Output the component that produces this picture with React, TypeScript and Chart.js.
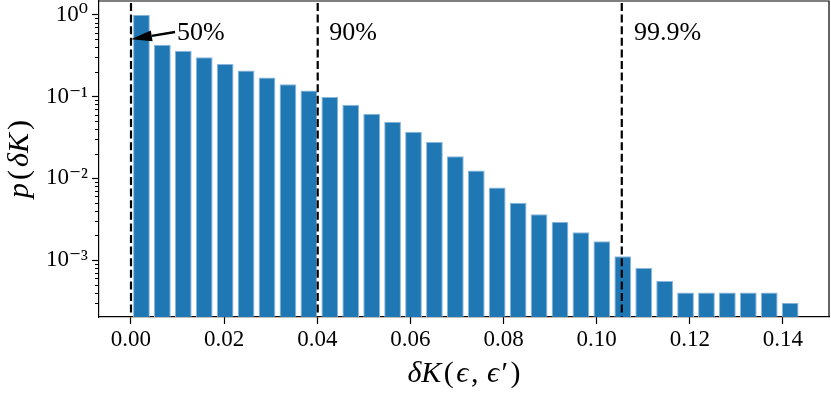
import React, { useEffect, useRef } from 'react';
import { Chart, registerables } from 'chart.js';

Chart.register(...registerables);

// ---- data ----
const binCenters = [
  0.002247, 0.006741, 0.011235, 0.015729, 0.020223, 0.024717, 0.029211, 0.033705,
  0.038199, 0.042693, 0.047187, 0.051681, 0.056175, 0.060669, 0.065163, 0.069657,
  0.074151, 0.078645, 0.083139, 0.087633, 0.092127, 0.096621, 0.101115, 0.105609,
  0.110103, 0.114597, 0.119091, 0.123585, 0.128079, 0.132573, 0.137067, 0.141561,
];
const probabilities = [
  1.0, 0.43, 0.363, 0.301, 0.249, 0.207, 0.17, 0.141,
  0.118, 0.0986, 0.0794, 0.0616, 0.0492, 0.0371, 0.0278, 0.0186,
  0.0124, 0.0077, 0.005, 0.00363, 0.00292, 0.00219, 0.0017, 0.00111,
  0.0008, 0.000555, 0.0004, 0.0004, 0.0004, 0.0004, 0.0004, 0.0003,
];
const xTickValues = [0, 0.02, 0.04, 0.06, 0.08, 0.1, 0.12, 0.14];
const xTickLabels = ['0.00', '0.02', '0.04', '0.06', '0.08', '0.10', '0.12', '0.14'];
const yMajorValues = [1, 0.1, 0.01, 0.001];
const yMajorLabels = ['10⁰', '10⁻¹', '10⁻²', '10⁻³'];
const thresholdValues = [0.0, 0.0401, 0.1054];
const thresholdLabels = ['50%', '90%', '99.9%'];
const thresholdLabelX = [0.0099, 0.0426, 0.108];
const thresholdLabelY = 0.49;
const arrowTarget = { x: 0.0, y: 0.5 };
const xRange = { min: -0.00687, max: 0.1499 };
const yRange = { min: 2.01e-4, max: 1.47 };

const SERIF = "'Liberation Serif', 'DejaVu Serif', serif";
const BAR_COLOR = '#1f77b4';

const isPow10 = (v: number) => {
  const l = Math.log10(v);
  return Math.abs(l - Math.round(l)) < 1e-9;
};

function drawSegments(
  ctx: CanvasRenderingContext2D,
  segs: { t: string; it: boolean }[],
  size: number,
  cx: number,
  baseY: number,
  gap: number
) {
  const widths = segs.map((s) => {
    ctx.font = `${s.it ? 'italic ' : ''}${size}px ${SERIF}`;
    return ctx.measureText(s.t).width;
  });
  const total = widths.reduce((a, b) => a + b, 0) + gap * (segs.length - 1);
  let x = cx - total / 2;
  ctx.textAlign = 'left';
  ctx.textBaseline = 'alphabetic';
  segs.forEach((s, i) => {
    ctx.font = `${s.it ? 'italic ' : ''}${size}px ${SERIF}`;
    ctx.fillText(s.t, x, baseY);
    x += widths[i] + gap;
  });
}

const extras = {
  id: 'extras',
  afterDatasetsDraw(chart: any) {
    const { ctx, chartArea: ca, scales } = chart;
    const x = scales.x;
    const y = scales.y;
    ctx.save();
    // dashed threshold lines
    ctx.strokeStyle = '#000';
    ctx.lineWidth = 2.2;
    ctx.setLineDash([8, 3.6]);
    thresholdValues.forEach((v) => {
      const px = x.getPixelForValue(v);
      ctx.beginPath();
      ctx.moveTo(px, ca.top + 2);
      ctx.lineTo(px, ca.bottom);
      ctx.stroke();
    });
    ctx.setLineDash([]);
    // threshold labels
    ctx.fillStyle = '#000';
    ctx.font = `26px ${SERIF}`;
    ctx.textAlign = 'left';
    ctx.textBaseline = 'alphabetic';
    const by = y.getPixelForValue(thresholdLabelY);
    thresholdLabels.forEach((t, i) => {
      ctx.fillText(t, x.getPixelForValue(thresholdLabelX[i]), by);
    });
    // arrow from "50%" to target
    const tx = x.getPixelForValue(arrowTarget.x);
    const ty = y.getPixelForValue(arrowTarget.y);
    const sx = x.getPixelForValue(thresholdLabelX[0]) - 2;
    const sy = by - 8;
    const ang = Math.atan2(ty - sy, tx - sx);
    const headLen = 21;
    const headHalf = 5.5;
    const bx = tx - headLen * Math.cos(ang);
    const byy = ty - headLen * Math.sin(ang);
    ctx.strokeStyle = '#000';
    ctx.lineWidth = 2.4;
    ctx.beginPath();
    ctx.moveTo(sx, sy);
    ctx.lineTo(bx, byy);
    ctx.stroke();
    ctx.beginPath();
    ctx.moveTo(tx, ty);
    ctx.lineTo(bx + headHalf * Math.sin(ang), byy - headHalf * Math.cos(ang));
    ctx.lineTo(bx - headHalf * Math.sin(ang), byy + headHalf * Math.cos(ang));
    ctx.closePath();
    ctx.fill();
    ctx.restore();
  },
  afterDraw(chart: any) {
    const { ctx, chartArea: ca, scales } = chart;
    const y = scales.y;
    ctx.save();
    // top and right spines
    ctx.strokeStyle = '#000';
    ctx.lineWidth = 1.2;
    ctx.beginPath();
    ctx.moveTo(ca.left, ca.top);
    ctx.lineTo(ca.right, ca.top);
    ctx.lineTo(ca.right, ca.bottom);
    ctx.stroke();
    // minor y ticks
    ctx.lineWidth = 1;
    y.ticks.forEach((t: any) => {
      if (isPow10(t.value)) return;
      const py = Math.round(y.getPixelForValue(t.value)) + 0.5;
      ctx.beginPath();
      ctx.moveTo(ca.left - 4, py);
      ctx.lineTo(ca.left, py);
      ctx.stroke();
    });
    // axis titles
    ctx.fillStyle = '#000';
    drawSegments(
      ctx,
      [
        { t: 'δK', it: true },
        { t: '(', it: false },
        { t: 'ϵ', it: true },
        { t: ',\u2009', it: false },
        { t: 'ϵ', it: true },
        { t: '′', it: false },
        { t: ')', it: false },
      ],
      30,
      (ca.left + ca.right) / 2,
      382,
      2.5
    );
    ctx.translate(28, (ca.top + ca.bottom) / 2);
    ctx.rotate(-Math.PI / 2);
    drawSegments(
      ctx,
      [
        { t: 'p', it: true },
        { t: '(', it: false },
        { t: 'δK', it: true },
        { t: ')', it: false },
      ],
      30,
      0,
      0,
      3
    );
    ctx.restore();
  },
};

export default function App() {
  const ref = useRef<HTMLCanvasElement>(null);
  useEffect(() => {
    const canvas = ref.current;
    if (!canvas) return;
    const chart = new Chart(canvas, {
      type: 'bar',
      data: {
        datasets: [
          {
            data: binCenters.map((c, i) => ({ x: c, y: probabilities[i] })),
            backgroundColor: BAR_COLOR,
            borderColor: '#8ab6dc',
            borderWidth: 1,
            barPercentage: 0.8,
            categoryPercentage: 1,
          },
        ],
      },
      options: {
        responsive: false,
        animation: false,
        layout: { padding: { top: 1, right: 2, left: 0, bottom: 0 } },
        plugins: { legend: { display: false }, tooltip: { enabled: false } },
        scales: {
          x: {
            type: 'linear',
            min: xRange.min,
            max: xRange.max,
            offset: false,
            afterFit: (s: any) => {
              s.height = 77;
              s.paddingLeft = 0;
              s.paddingRight = 0;
            },
            afterBuildTicks: (s: any) => {
              s.ticks = xTickValues.map((v) => ({ value: v }));
            },
            grid: {
              offset: false,
              drawOnChartArea: false,
              drawTicks: true,
              tickLength: 7,
              tickWidth: 1.2,
              tickColor: '#000',
            },
            border: { display: true, color: '#000', width: 1.2 },
            ticks: {
              color: '#000',
              font: { family: SERIF, size: 23 },
              padding: 2,
              maxRotation: 0,
              autoSkip: false,
              callback: (_v: any, i: number) => xTickLabels[i],
            },
          },
          y: {
            type: 'logarithmic',
            min: yRange.min,
            max: yRange.max,
            beginAtZero: false,
            afterFit: (s: any) => {
              s.width = 99;
              s.paddingTop = 0;
              s.paddingBottom = 0;
            },
            afterBuildTicks: (s: any) => {
              const ticks: any[] = [];
              for (let e = -4; e <= 0; e++) {
                for (let m = 1; m <= 9; m++) {
                  const v = m * Math.pow(10, e);
                  if (v >= yRange.min && v <= yRange.max) ticks.push({ value: v, major: m === 1 });
                }
              }
              s.ticks = ticks;
            },
            grid: {
              drawOnChartArea: false,
              drawTicks: true,
              tickLength: 7,
              tickWidth: 1.2,
              tickColor: (c: any) => (c.tick && isPow10(c.tick.value) ? '#000' : 'rgba(0,0,0,0)'),
            },
            border: { display: true, color: '#000', width: 1.2 },
            ticks: {
              color: '#000',
              font: { family: SERIF, size: 23 },
              padding: 4,
              autoSkip: false,
              callback: (v: any) => {
                const idx = yMajorValues.findIndex((m) => Math.abs(Math.log10(m) - Math.log10(Number(v))) < 1e-9);
                return idx >= 0 ? yMajorLabels[idx] : '';
              },
            },
          },
        },
      },
      plugins: [extras],
    } as any);
    return () => chart.destroy();
  }, []);
  return (
    <div style={{ position: 'fixed', left: 0, top: 0, width: 831, height: 394, background: '#fff' }}>
      <canvas ref={ref} width={831} height={394} style={{ width: 831, height: 394, display: 'block' }} />
    </div>
  );
}
